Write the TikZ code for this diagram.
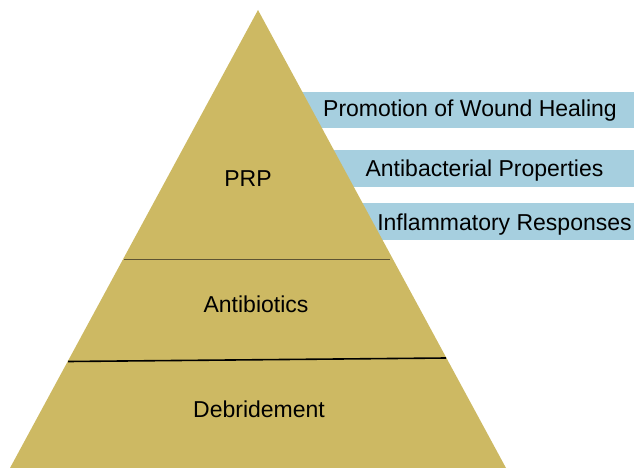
\documentclass[tikz,border=0pt]{standalone}
\usepackage{fontspec}
\setmainfont{Liberation Sans}
\definecolor{pyrfill}{HTML}{CDB963}
\definecolor{barfill}{HTML}{A6CFDF}
\definecolor{rule}{HTML}{5E5433}
\begin{document}
\begin{tikzpicture}[
	x=1pt,
	y=-1pt,
	font=\fontsize{23}{27}\selectfont,
	lbl/.style={anchor=base, inner sep=0pt}
	]
	\useasboundingbox (0,0) rectangle (634,468);

	% --- blue bars, partly hidden behind the pyramid ---
	\foreach \i/\top/\bot/\cx/\base/\lab in {
		1/92/128/470/116.5/Promotion of Wound Healing,
		2/150/187/484.5/176.5/Antibacterial Properties,
		3/203/240/504.5/230/Inflammatory Responses} {
		\fill[barfill] (280,\top) rectangle (634,\bot);
		\node[lbl] (bar\i) at (\cx,\base) {\lab};
	}

	% --- pyramid ---
	\coordinate (apex) at (258,10);
	\coordinate (baseR) at (506,468);
	\coordinate (baseL) at (10,468);
	\fill[pyrfill] (apex) -- (baseR) -- (baseL) -- cycle;

	% level dividers
	\coordinate (d1l) at (124,259.5);
	\coordinate (d1r) at (390,259.5);
	\coordinate (d2l) at (68,361.5);
	\coordinate (d2r) at (446,358);
	\draw[rule, line width=0.8pt] (d1l) -- (d1r);
	\draw[black, line width=1.6pt] (d2l) -- (d2r);

	% level labels
	\node[lbl] (prp) at (248,186) {PRP};
	\node[lbl] (abx) at (256,312.5) {Antibiotics};
	\node[lbl] (deb) at (259,417) {Debridement};
\end{tikzpicture}
\end{document}
